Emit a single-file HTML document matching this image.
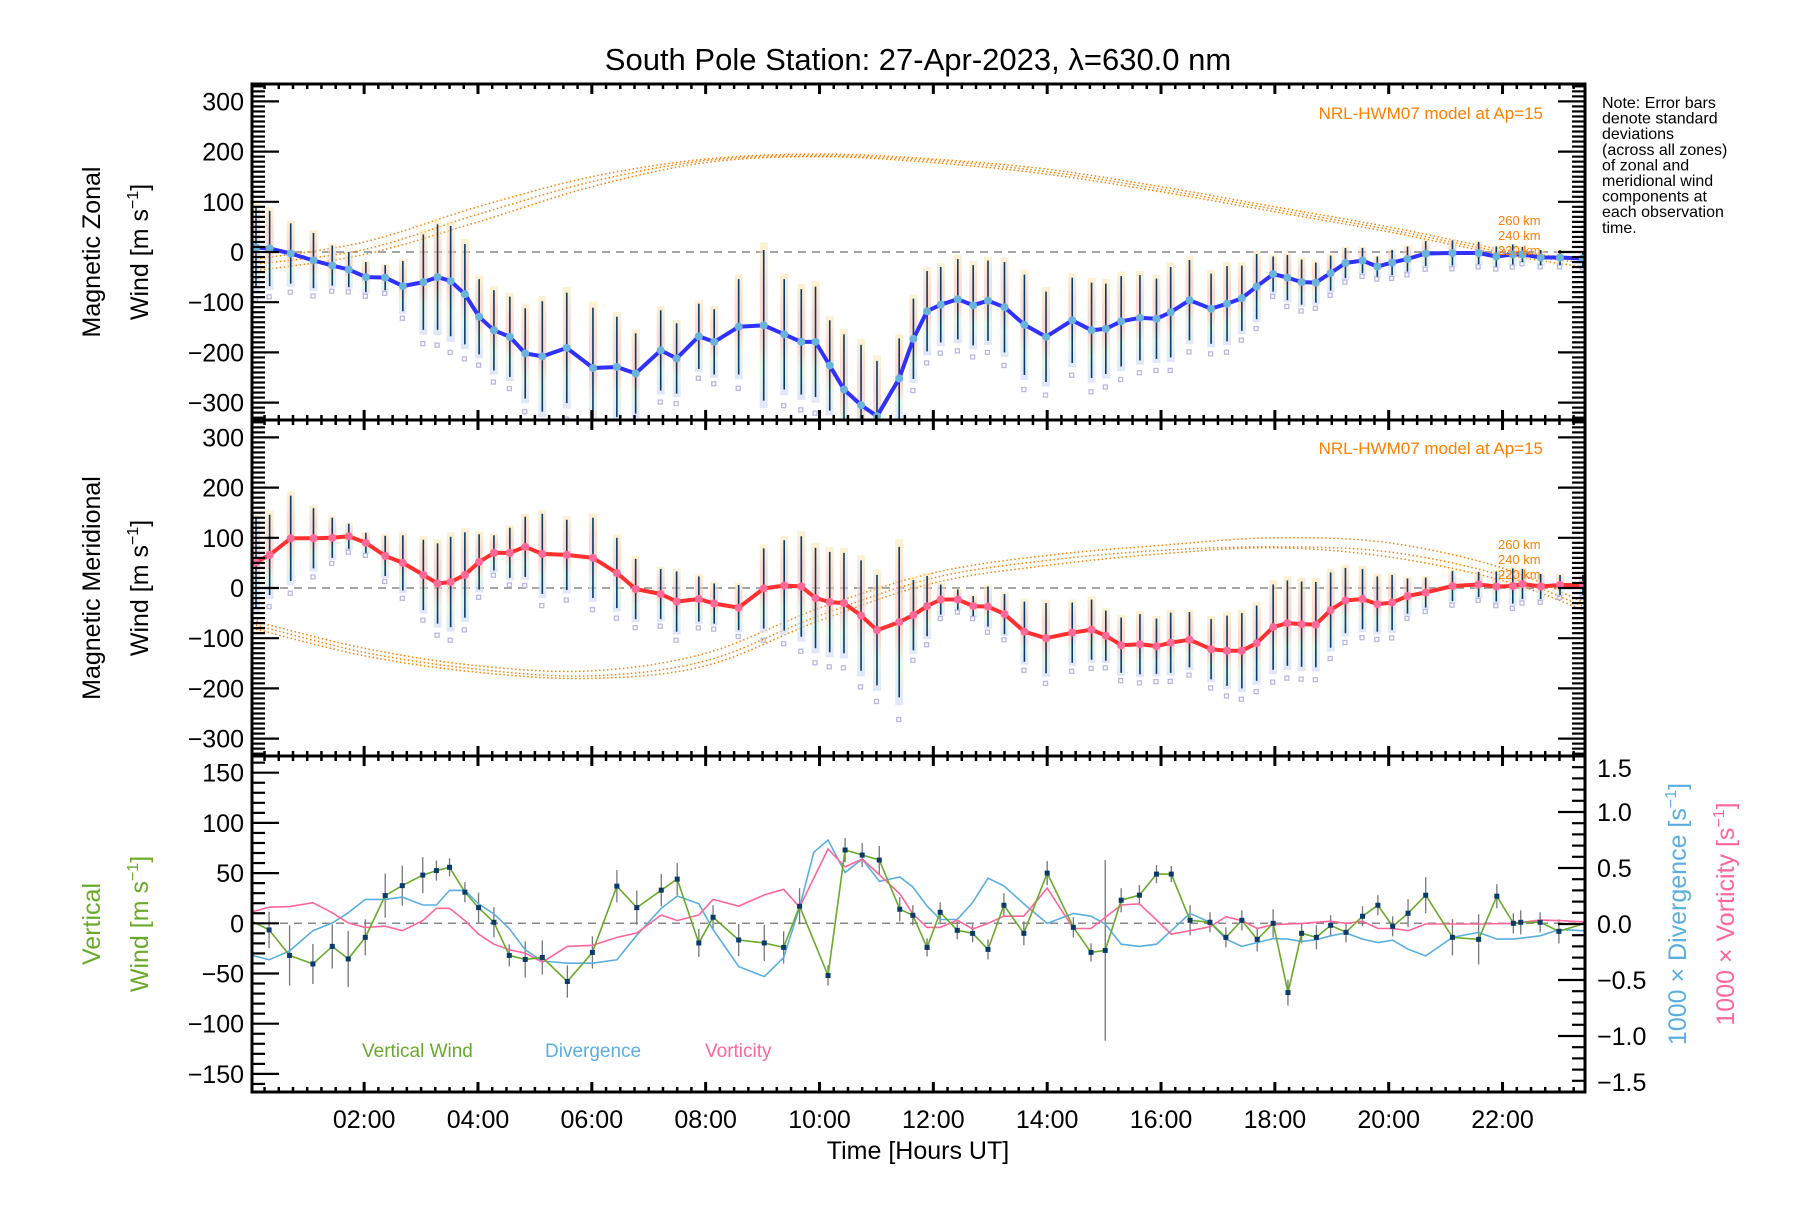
<!DOCTYPE html>
<html><head><meta charset="utf-8"><style>
html,body{margin:0;padding:0;background:#fff;}
svg text{font-family:"Liberation Sans",sans-serif;}
</style></head><body>
<svg id="chart" xmlns="http://www.w3.org/2000/svg" width="1800" height="1200" viewBox="0 0 1800 1200">
<rect width="1800" height="1200" fill="#fff"/>
<defs>
<clipPath id="c1"><rect x="252" y="84" width="1333" height="336"/></clipPath>
<clipPath id="c2"><rect x="252" y="420" width="1333" height="336"/></clipPath>
<clipPath id="c3"><rect x="252" y="756" width="1333" height="336"/></clipPath>
<linearGradient id="pastel" x1="0" y1="0" x2="0" y2="1">
<stop offset="0" stop-color="#f8eab8"/><stop offset="0.3" stop-color="#f9c4b4"/><stop offset="0.55" stop-color="#f9c0b0"/><stop offset="0.75" stop-color="#d4f0d8"/><stop offset="1" stop-color="#cdd6f6"/>
</linearGradient>
</defs>
<text x="918" y="70" font-size="31" text-anchor="middle">South Pole Station: 27-Apr-2023, λ=630.0 nm</text>
<g id="g1" clip-path="url(#c1)"></g>
<g id="g2" clip-path="url(#c2)"></g>
<g id="g3" clip-path="url(#c3)"></g>
<g id="axes"></g>
<g font-size="16">
<text x="1602" y="108">Note: Error bars</text>
<text x="1602" y="123.6">denote standard</text>
<text x="1602" y="139.2">deviations</text>
<text x="1602" y="154.8">(across all zones)</text>
<text x="1602" y="170.4">of zonal and</text>
<text x="1602" y="186">meridional wind</text>
<text x="1602" y="201.6">components at</text>
<text x="1602" y="217.2">each observation</text>
<text x="1602" y="232.8">time.</text>
</g>
<text x="1543" y="119" font-size="17" fill="#ff8000" text-anchor="end">NRL-HWM07 model at Ap=15</text>
<text x="1543" y="454" font-size="17" fill="#ff8000" text-anchor="end">NRL-HWM07 model at Ap=15</text>
<g font-size="13" fill="#ff8000">
<text x="1498" y="225">260 km</text><text x="1498" y="240">240 km</text><text x="1498" y="255">220 km</text>
<text x="1498" y="549">260 km</text><text x="1498" y="564">240 km</text><text x="1498" y="579">220 km</text>
</g>
<g font-size="25">
<text transform="translate(100,252) rotate(-90)" text-anchor="middle">Magnetic Zonal</text>
<text transform="translate(148,252) rotate(-90)" text-anchor="middle">Wind [m s<tspan font-size="16" dy="-10">−1</tspan><tspan dy="10">]</tspan></text>
<text transform="translate(100,588) rotate(-90)" text-anchor="middle">Magnetic Meridional</text>
<text transform="translate(148,588) rotate(-90)" text-anchor="middle">Wind [m s<tspan font-size="16" dy="-10">−1</tspan><tspan dy="10">]</tspan></text>
<text transform="translate(100,924) rotate(-90)" text-anchor="middle" fill="#6aaa2a">Vertical</text>
<text transform="translate(148,924) rotate(-90)" text-anchor="middle" fill="#6aaa2a">Wind [m s<tspan font-size="16" dy="-10">−1</tspan><tspan dy="10">]</tspan></text>
<text transform="translate(1686,914) rotate(-90)" text-anchor="middle" fill="#5aafe0">1000 × Divergence [s<tspan font-size="16" dy="-10">−1</tspan><tspan dy="10">]</tspan></text>
<text transform="translate(1734,914) rotate(-90)" text-anchor="middle" fill="#ff6699">1000 × Vorticity [s<tspan font-size="16" dy="-10">−1</tspan><tspan dy="10">]</tspan></text>
</g>
<text x="918" y="1159" font-size="25" text-anchor="middle">Time [Hours UT]</text>
<g font-size="19">
<text x="362" y="1057" fill="#6aaa2a">Vertical Wind</text>
<text x="545" y="1057" fill="#5aafe0">Divergence</text>
<text x="705" y="1057" fill="#ff6699">Vorticity</text>
</g>
</svg>
<script>
// ---- data ----
const hvTimes = [0.1,0.34,0.71,1.11,1.44,1.73,2.03,2.37,2.68,3.04,3.29,3.52,3.77,4.02,4.28,4.56,4.83,5.13,5.56,6.02,6.44,6.77,7.21,7.49,7.88,8.15,8.58,9.02,9.38,9.68,9.93,10.18,10.43,10.73,11.01,11.40,11.65,11.89,12.13,12.43,12.70,12.96,13.25,13.60,13.98,14.44,14.78,15.03,15.30,15.63,15.92,16.17,16.50,16.88,17.16,17.42,17.68,17.97,18.22,18.47,18.72,18.98,19.24,19.54,19.80,20.06,20.33,20.65,21.12,21.58,21.89,22.18,22.35,22.67,23.01,23.41];
const zonalValues = [9,7,-3,-17,-27,-35,-50,-51,-68,-60,-50,-58,-84,-129,-156,-169,-202,-208,-191,-231,-229,-242,-196,-212,-168,-179,-149,-146,-164,-179,-179,-226,-274,-305,-327,-252,-173,-118,-105,-94,-106,-97,-110,-145,-169,-136,-156,-153,-138,-131,-133,-120,-96,-113,-103,-92,-69,-44,-51,-60,-61,-42,-22,-17,-29,-21,-14,-3,-2,-2,-9,-5,-5,-11,-11,-13];
const zonalErrors = [80,75,60,55,40,35,30,25,50,95,105,110,100,75,80,80,90,110,110,120,100,80,80,70,65,65,95,150,110,105,110,90,110,120,110,80,80,80,75,80,80,80,90,100,90,85,95,90,90,85,80,90,80,70,75,65,65,35,45,45,40,35,30,25,20,25,25,25,25,22,20,20,15,15,15,15];
const meridValues = [51,66,99,99,100,103,90,64,50,26,9,12,26,52,70,70,82,68,66,60,30,-2,-12,-27,-22,-31,-39,-1,5,3,-20,-28,-30,-55,-84,-68,-54,-36,-23,-23,-36,-37,-52,-87,-100,-89,-83,-95,-114,-112,-116,-109,-103,-122,-125,-125,-110,-78,-70,-72,-73,-44,-25,-22,-32,-29,-16,-9,4,7,3,4,8,3,6,6];
const meridErrors = [90,80,85,60,40,25,20,40,55,70,80,90,85,55,35,50,60,80,70,80,70,60,50,60,45,40,45,80,90,100,100,100,100,110,110,150,70,60,30,20,20,40,40,60,70,60,60,50,55,60,55,60,55,60,70,75,75,85,85,85,85,75,65,60,55,55,35,30,30,25,30,35,30,25,20,20];
const modelTimes = [0.03,2,4,6,8,10,12,14,16,18,20,22,23.45];
const zonalModel260 = [-15,20,90,150,185,195,185,165,130,90,50,5,-15];
const zonalModel240 = [-25,5,75,140,182,192,182,160,125,85,45,0,-22];
const zonalModel220 = [-38,-5,60,130,178,190,178,155,120,80,40,-5,-30];
const meridModel260 = [-65,-120,-155,-165,-130,-40,30,65,85,100,90,40,-30];
const meridModel240 = [-72,-128,-162,-175,-145,-55,20,55,75,82,72,25,-38];
const meridModel220 = [-80,-135,-168,-180,-155,-65,10,45,68,80,62,15,-45];
const vwTimes = [0.33,0.69,1.10,1.44,1.72,2.02,2.37,2.67,3.03,3.27,3.50,3.77,4.01,4.28,4.55,4.83,5.13,5.57,6.01,6.44,6.79,7.22,7.50,7.88,8.13,8.58,9.03,9.37,9.65,10.15,10.45,10.75,11.05,11.41,11.64,11.89,12.12,12.42,12.69,12.96,13.24,13.59,14.0,14.46,14.77,15.02,15.30,15.62,15.92,16.18,16.51,16.86,17.14,17.42,17.69,17.97,18.23,18.47,18.73,18.98,19.25,19.54,19.81,20.07,20.34,20.65,21.12,21.58,21.90,22.19,22.32,22.66,22.99];
const vwValues = [-6.6,-32,-40.5,-23,-35.5,-14,27.6,37.5,48,52.5,55.8,31,15.6,1,-32,-36,-34,-58,-29,37,15.6,33,44,-19.6,6,-16.6,-19.6,-24,17,-52,73,68,63,14,8,-24,11,-7,-10,-26,18,-10,50,-4,-29,-27,23,28,49,49,3,1,-14,3,-16,0,-69,-10,-14,-2,-9,7,18,-3,10,28,-14,-16,27,0,1,1,-8];
const vwErrors = [18,30,20,22,28,18,22,20,18,10,9,10,15,15,11,18,17,16,16,16,17,16,16,14,12,16,18,16,18,10,12,12,14,12,10,9,10,9,9,10,12,12,12,10,9,90,12,10,9,8,15,10,10,10,12,14,13,10,12,10,10,10,10,10,14,18,18,25,12,10,12,10,12];
const divTimes = [0.04,0.33,0.69,1.10,1.44,1.72,2.02,2.37,2.67,3.03,3.27,3.50,3.77,4.01,4.28,4.55,4.83,5.13,5.57,6.01,6.44,6.79,7.22,7.50,7.88,8.13,8.58,9.03,9.37,9.65,9.9,10.15,10.45,10.75,11.05,11.41,11.64,11.89,12.12,12.42,12.69,12.96,13.24,13.59,14.0,14.46,14.77,15.02,15.30,15.62,15.92,16.18,16.51,16.86,17.14,17.42,17.69,17.97,18.23,18.47,18.73,18.98,19.25,19.54,19.81,20.07,20.34,20.65,21.12,21.58,21.90,22.19,22.66,22.99,23.43];
const divValues = [-0.28,-0.32,-0.24,-0.06,0.01,0.10,0.22,0.22,0.24,0.17,0.17,0.30,0.30,0.18,0.09,-0.04,-0.23,-0.33,-0.35,-0.35,-0.32,-0.10,0.14,0.25,0.18,-0.05,-0.38,-0.47,-0.30,0.15,0.64,0.75,0.46,0.58,0.38,0.42,0.33,0.16,0.04,0.04,0.19,0.41,0.34,0.18,0.005,0.095,0.07,0,-0.18,-0.2,-0.18,-0.06,0.095,0.015,-0.135,-0.2,-0.165,-0.13,-0.135,-0.155,-0.14,-0.105,-0.08,-0.135,-0.165,-0.145,-0.225,-0.285,-0.12,-0.075,-0.135,-0.135,-0.105,-0.05,-0.06];
const vortTimes = [0.04,0.33,0.69,1.10,1.44,1.72,2.02,2.37,2.67,3.03,3.27,3.50,3.77,4.01,4.28,4.55,4.83,5.13,5.57,6.01,6.44,6.79,7.22,7.50,7.88,8.13,8.58,9.03,9.37,9.65,10.15,10.45,10.75,11.05,11.41,11.64,11.89,12.12,12.42,12.69,12.96,13.24,13.59,14.0,14.46,14.77,15.30,15.62,16.18,16.51,16.86,17.14,17.42,17.69,17.97,18.47,18.98,19.25,19.54,19.81,20.07,20.34,20.65,21.12,21.58,22.19,22.66,22.99,23.43];
const vortValues = [0.11,0.15,0.155,0.19,0.10,0.01,-0.03,-0.02,-0.06,0.03,0.14,0.14,0.03,-0.09,-0.18,-0.23,-0.26,-0.34,-0.2,-0.19,-0.12,-0.08,0.08,0.03,0.08,0.22,0.16,0.26,0.31,0.15,0.67,0.51,0.58,0.44,0.27,0.09,-0.03,-0.03,0.035,-0.045,0.005,0.07,0.07,0.32,-0.04,-0.04,0.17,0.18,-0.09,-0.06,-0.025,0.065,0.03,-0.04,-0.005,0.005,0.025,0.005,0.025,-0.04,-0.04,-0.06,0,0,0,0.005,0.035,0.03,0.02];
const xTickLabels = ["02:00","04:00","06:00","08:00","10:00","12:00","14:00","16:00","18:00","20:00","22:00"];
const windTicks = [-300,-200,-100,0,100,200,300];
const vertTicks = [-150,-100,-50,0,50,100,150];
const rightTicks = [-1.5,-1.0,-0.5,0.0,0.5,1.0,1.5];

// ---- scales ----
const L=252,R=1585;
const X=h=>250.3+h*56.92;
const Yw=(c)=>v=>c-v*0.502;
const Y1=Yw(252),Y2=Yw(588);
const Y3=v=>923.3-v*1.004;
const YR=v=>924-v*112;
const NS="http://www.w3.org/2000/svg";
function mk(tag,attrs,parent){const e=document.createElementNS(NS,tag);for(const k in attrs)e.setAttribute(k,attrs[k]);parent.appendChild(e);return e;}
function pathFrom(ts,vs,Y){return ts.map((t,i)=>(i?"L":"M")+X(t).toFixed(1)+","+Y(vs[i]).toFixed(1)).join("");}
function smoothPath(ts,vs,Y){const p=ts.map((t,i)=>[X(t),Y(vs[i])]);let d="M"+p[0][0]+","+p[0][1];
 for(let i=0;i<p.length-1;i++){const p0=p[Math.max(0,i-1)],p1=p[i],p2=p[i+1],p3=p[Math.min(p.length-1,i+2)];
 d+="C"+(p1[0]+(p2[0]-p0[0])/6).toFixed(1)+","+(p1[1]+(p2[1]-p0[1])/6).toFixed(1)+" "+(p2[0]-(p3[0]-p1[0])/6).toFixed(1)+","+(p2[1]-(p3[1]-p1[1])/6).toFixed(1)+" "+p2[0].toFixed(1)+","+p2[1].toFixed(1);}return d;}

function windPanel(g,Y,vals,errs,models,lineCol,mkCol,nm){
 const zl=mk("line",{x1:L,x2:R,y1:Y(0),y2:Y(0),stroke:"#888","stroke-width":1.5,"stroke-dasharray":"8,6"},g);
 
 
 models.forEach((m,k)=>{const p=mk("path",{d:smoothPath(modelTimes,m,Y),fill:"none",stroke:"#ff8000","stroke-width":1.5,"stroke-dasharray":"1.5,2.5"},g);
  
  });
 hvTimes.forEach((t,i)=>{const x=X(t),e=errs[i]*1.1;
  const r=mk("rect",{x:x-4,y:Y(vals[i]+e),width:8,height:Math.abs(Y(vals[i]-e)-Y(vals[i]+e)),fill:"url(#pastel)",opacity:0.6},g);
  
  
  const q=mk("rect",{x:x-2.5,y:Y(vals[i]-errs[i]*1.3)-2.5,width:4,height:4,fill:"none",stroke:"#b8b8e4","stroke-width":1.3},g);
  
  
  const l=mk("line",{x1:x,x2:x,y1:Y(vals[i]+errs[i]),y2:Y(vals[i]-errs[i]),stroke:"#0a3a6a","stroke-width":1.6},g);
  
  });
 const ln=mk("path",{d:pathFrom(hvTimes,vals,Y),fill:"none",stroke:lineCol,"stroke-width":4,"stroke-linejoin":"round"},g);
 
 
 hvTimes.forEach((t,i)=>{const c=mk("circle",{cx:X(t),cy:Y(vals[i]),r:4,fill:mkCol},g);
  
  });
}
windPanel(document.getElementById("g1"),Y1,zonalValues,zonalErrors,[zonalModel260,zonalModel240,zonalModel220],"#3030ff","#6ab4dc","zonal");
windPanel(document.getElementById("g2"),Y2,meridValues,meridErrors,[meridModel260,meridModel240,meridModel220],"#ff3030","#ff6a9a","meridional");

// panel 3
const g3=document.getElementById("g3");
const z3=mk("line",{x1:L,x2:R,y1:Y3(0),y2:Y3(0),stroke:"#888","stroke-width":1.5,"stroke-dasharray":"8,6"},g3);


vwTimes.forEach((t,i)=>{const l=mk("line",{x1:X(t),x2:X(t),y1:Y3(vwValues[i]+vwErrors[i]),y2:Y3(vwValues[i]-vwErrors[i]),stroke:"#777","stroke-width":1.3},g3);
 
 });
const dl=mk("path",{d:pathFrom(divTimes,divValues,YR),fill:"none",stroke:"#5aafe0","stroke-width":1.6},g3);


const vl=mk("path",{d:pathFrom(vortTimes,vortValues,YR),fill:"none",stroke:"#ff6699","stroke-width":1.6},g3);


const wl=mk("path",{d:"M"+L+","+Y3(2)+pathFrom(vwTimes,vwValues,Y3).replace("M","L")+"L"+R+","+Y3(0),fill:"none",stroke:"#6aaa2a","stroke-width":1.6},g3);


vwTimes.forEach((t,i)=>{const r=mk("rect",{x:X(t)-2.5,y:Y3(vwValues[i])-2.5,width:5,height:5,fill:"#0a3a6a"},g3);
 
 });

// axes
const ax=document.getElementById("axes");
[[84,420],[420,756],[756,1092]].forEach(([t,b],pi)=>{
 const f=mk("rect",{x:L,y:t,width:R-L,height:b-t,fill:"none",stroke:"#000","stroke-width":3},ax);
 
 
 for(let m=0;m<=23*4+2;m++){const h=m/4;const x=X(h);if(x<L+1||x>R-1)continue;const major=m%8===0;const len=major?10:5;
  mk("line",{x1:x,x2:x,y1:t,y2:t+len,stroke:"#000","stroke-width":major?3:2.5},ax);
  mk("line",{x1:x,x2:x,y1:b,y2:b-len,stroke:"#000","stroke-width":major?3:2.5},ax);}
});
function yTicks(Y,lo,hi,minor,major,fmt,t,b,side,labels){
 for(let v=lo;v<=hi+1e-9;v+=minor){const y=Y(v);if(y<t+1||y>b-1)continue;const isM=Math.abs(Math.round(v/major)*major-v)<1e-6;const len=isM?27:13;
  if(side==="L")mk("line",{x1:L,x2:L+len,y1:y,y2:y,stroke:"#000","stroke-width":2.2},ax);
  else mk("line",{x1:R,x2:R-len,y1:y,y2:y,stroke:"#000","stroke-width":2.2},ax);}
 labels.forEach(v=>{let y=Y(v);y=Math.max(t+12,Math.min(b-10,y));
  const tx=mk("text",{x:side==="L"?244:1597,y:y+9,"font-size":25,"text-anchor":side==="L"?"end":"start"},ax);
  tx.textContent=fmt(v);
  
  });
}
const fw=v=>(v<0?"−":"")+Math.abs(v);
yTicks(Y1,-330,330,10,100,fw,84,420,"L",windTicks);
yTicks(Y1,-330,330,10,100,fw,84,420,"R",[]);
yTicks(Y2,-330,330,10,100,fw,420,756,"L",windTicks);
yTicks(Y2,-330,330,10,100,fw,420,756,"R",[]);
yTicks(Y3,-160,160,10,50,fw,756,1092,"L",vertTicks);
yTicks(YR,-1.5,1.5,0.1,0.5,v=>(v<0?"−":"")+Math.abs(v).toFixed(1),756,1092,"R",rightTicks);
xTickLabels.forEach((s,i)=>{const tx=mk("text",{x:X(2+2*i),y:1128,"font-size":25,"text-anchor":"middle"},ax);
 tx.textContent=s;
 
 });
</script>
</body></html>
